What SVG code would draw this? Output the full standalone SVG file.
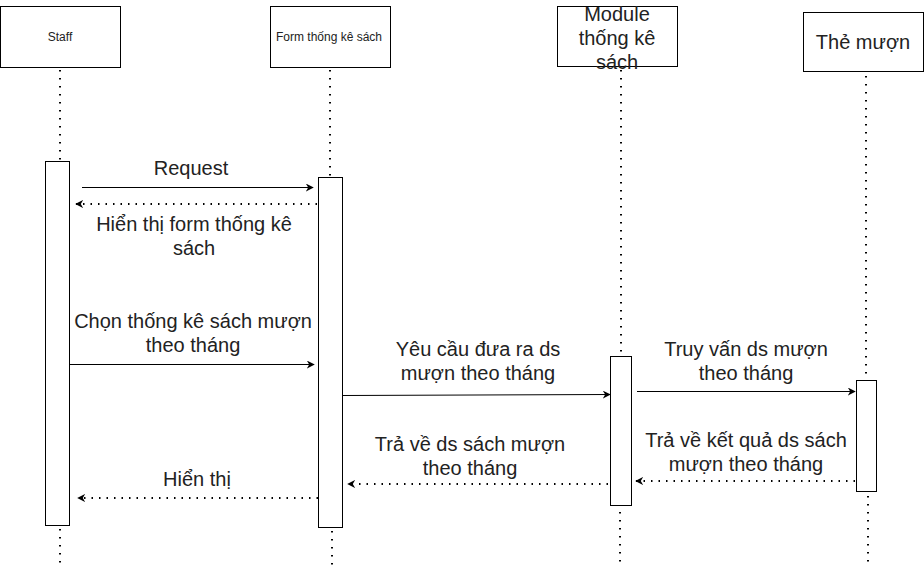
<svg xmlns="http://www.w3.org/2000/svg" width="924" height="568" viewBox="0 0 924 568">
<defs>
<marker id="arr" viewBox="0 0 10 10" refX="9" refY="5" markerWidth="8" markerHeight="8" markerUnits="userSpaceOnUse" orient="auto">
<path d="M0,0 L10,5 L0,10 L3,5 Z" fill="#000"/>
</marker>
</defs>
<style>
.box{fill:#fff;stroke:#000;stroke-width:1}
.life{stroke:#000;stroke-width:2;stroke-dasharray:1.5 6.5;fill:none}
.msg{stroke:#000;stroke-width:1;fill:none;marker-end:url(#arr)}
.ret{stroke:#000;stroke-width:2;stroke-dasharray:1.5 6;fill:none;marker-end:url(#arr)}
text{font-family:"Liberation Sans",Arial,sans-serif;fill:#222;text-anchor:middle}
.s{font-size:12px}
.l{font-size:20px}
</style>
<rect width="924" height="568" fill="#fff"/>
<g id="lifelines">
<line class="life" x1="60" y1="70" x2="60" y2="161"/>
<line class="life" x1="60" y1="529" x2="60" y2="566"/>
<line class="life" x1="330" y1="70" x2="330" y2="177"/>
<line class="life" x1="332" y1="531" x2="332" y2="566"/>
<line class="life" x1="621" y1="70" x2="621" y2="356"/>
<line class="life" x1="620" y1="512" x2="620" y2="562"/>
<line class="life" x1="866" y1="76" x2="866" y2="380"/>
<line class="life" x1="868" y1="496" x2="868" y2="562"/>
</g>
<g id="staff">
<rect class="box" x="0.5" y="6.5" width="120" height="61"/>
<text class="s" x="60" y="41">Staff</text>
</g>
<g id="form">
<rect class="box" x="270.5" y="6.5" width="120" height="61"/>
<text class="s" x="329" y="41">Form thống kê sách</text>
</g>
<g id="module">
<rect class="box" x="557.5" y="6.5" width="120" height="60"/>
<text class="l" x="617" y="21">Module</text>
<text class="l" x="617" y="45">thống kê</text>
<text class="l" x="617" y="69">sách</text>
</g>
<g id="the-muon">
<rect class="box" x="803.5" y="12.5" width="120" height="59"/>
<text class="l" x="863" y="49">Thẻ mượn</text>
</g>
<g id="activations">
<rect id="act-staff" class="box" x="45.5" y="161.5" width="24" height="364"/>
<rect id="act-form" class="box" x="318.5" y="177.5" width="24" height="350"/>
<rect id="act-module" class="box" x="610.5" y="356.5" width="21" height="149"/>
<rect id="act-the" class="box" x="856.5" y="380.5" width="20" height="111"/>
</g>
<g id="connectors">
<line class="msg" x1="82" y1="187.5" x2="313" y2="187.5"/>
<line class="ret" x1="317" y1="204" x2="76" y2="204"/>
<line class="msg" x1="70" y1="364.5" x2="314" y2="364.5"/>
<line class="msg" x1="343" y1="395.5" x2="610" y2="394.5"/>
<line class="msg" x1="637" y1="391.5" x2="855" y2="391.5"/>
<line class="ret" x1="855" y1="481" x2="636" y2="481"/>
<line class="ret" x1="608" y1="484" x2="348" y2="484"/>
<line class="ret" x1="318" y1="498" x2="78" y2="498"/>
</g>
<g id="labels">
<text class="l" x="191" y="175">Request</text>
<text class="l" x="194" y="231">Hiển thị form thống kê</text>
<text class="l" x="194" y="255">sách</text>
<text class="l" x="193" y="328">Chọn thống kê sách mượn</text>
<text class="l" x="193" y="352">theo tháng</text>
<text class="l" x="478" y="356">Yêu cầu đưa ra ds</text>
<text class="l" x="478" y="380">mượn theo tháng</text>
<text class="l" x="746" y="356">Truy vấn ds mượn</text>
<text class="l" x="746" y="380">theo tháng</text>
<text class="l" x="746" y="447">Trả về kết quả ds sách</text>
<text class="l" x="746" y="471">mượn theo tháng</text>
<text class="l" x="470" y="451">Trả về ds sách mượn</text>
<text class="l" x="470" y="475">theo tháng</text>
<text class="l" x="197" y="486">Hiển thị</text>
</g>
</svg>
